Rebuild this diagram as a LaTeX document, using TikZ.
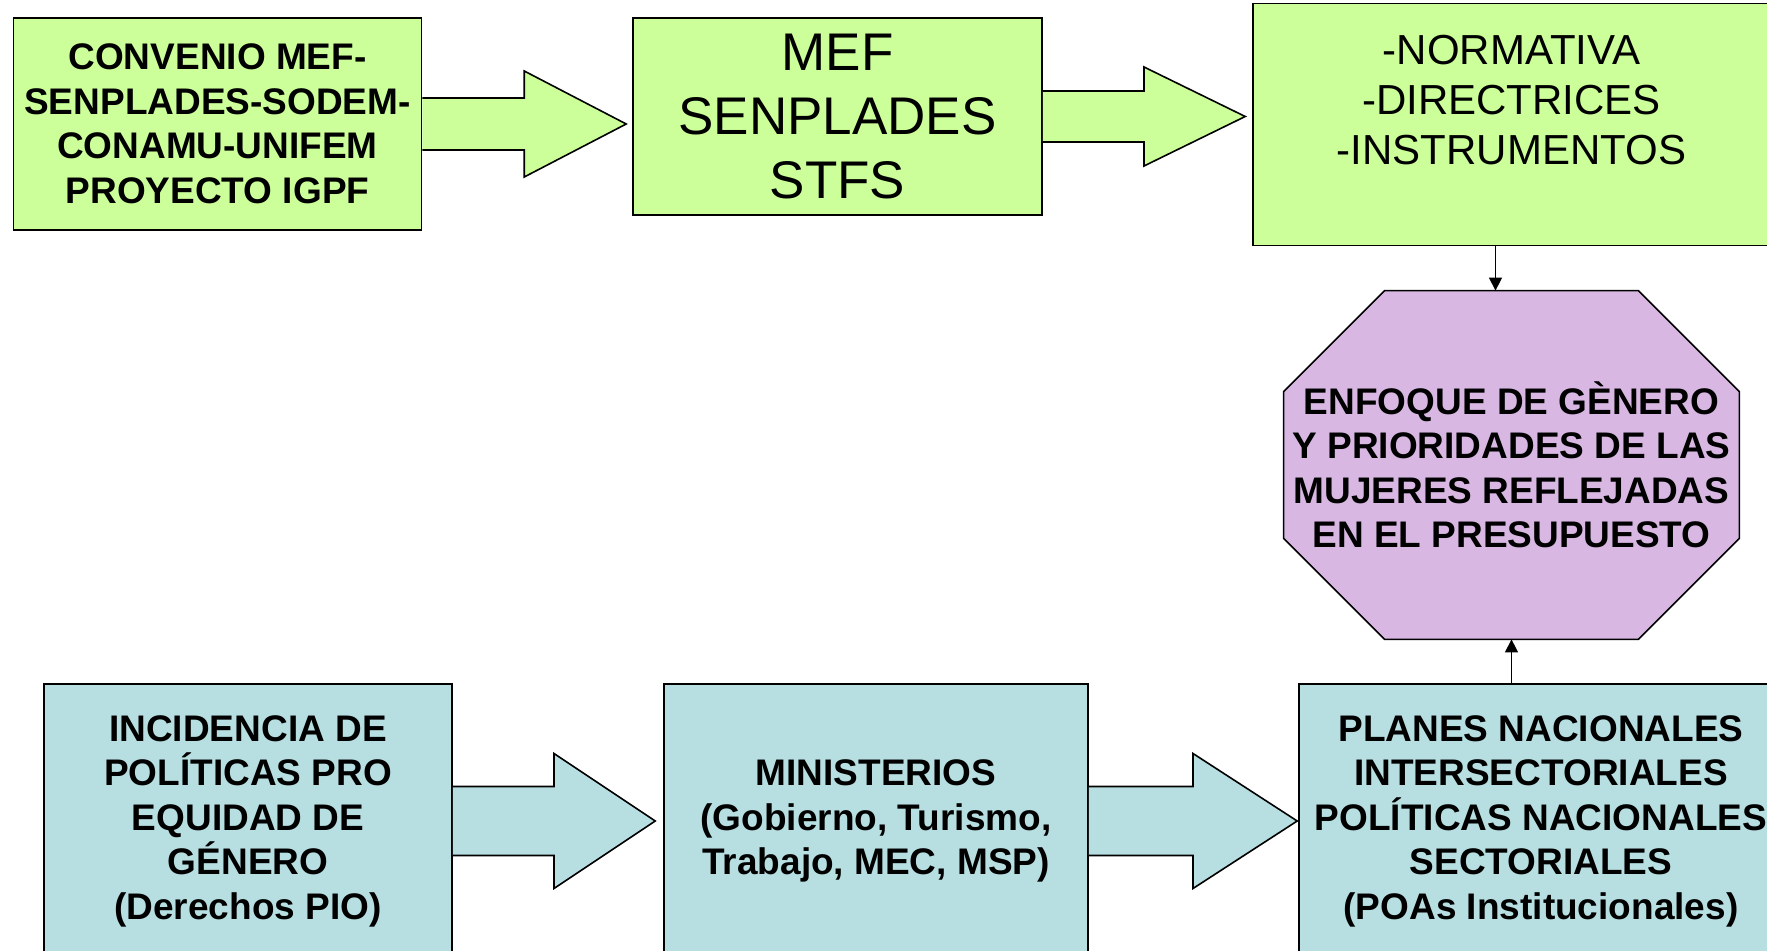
\documentclass[tikz,border=0pt]{standalone}
\usepackage{fontspec}
\setmainfont{Liberation Sans}
\usetikzlibrary{arrows.meta, calc, backgrounds}
\definecolor{boxgreen}{HTML}{CCFF99}
\definecolor{boxblue}{HTML}{B7DFE2}
\definecolor{boxpurple}{HTML}{D8B8E3}

% block arrow: from, to, gap, shaft half width, head half width, fill
\newcommand{\blockarrow}[6]{%
  \coordinate (tip) at ($(#2.west |- #1.east)+(-#3,0)$);
  \coordinate (mid) at ($(#1.east)!0.5!(tip)$);
  \filldraw[fill=#6, line width=0.8pt, line join=miter]
    ($(#1.east)+(0,-#4)$) -- ($(mid)+(0,-#4)$) -- ($(mid)+(0,-#5)$) -- (tip)
    -- ($(mid)+(0,#5)$) -- ($(mid)+(0,#4)$) -- ($(#1.east)+(0,#4)$);
}

\begin{document}
\begin{tikzpicture}[
    x=0.5pt, y=-0.5pt,
    box/.style={
        draw,
        line width=0.8pt,
        align=center,
        inner sep=0pt
    },
    boldtext/.style={
        font=\fontsize{18.5pt}{22.25pt}\selectfont\bfseries
    },
    link/.style={
        -{Triangle[length=6.5pt, width=6.5pt]},
        line width=0.7pt
    }
]
\useasboundingbox (0,0) rectangle (1767,951);

% Top row
\node[box, boldtext, fill=boxgreen, minimum width=204pt, minimum height=106pt] (conv) at (217.5,124) {
    CONVENIO MEF-\\
    SENPLADES-SODEM-\\
    CONAMU-UNIFEM\\
    PROYECTO IGPF
};

\node[box, fill=boxgreen, minimum width=204.5pt, minimum height=98.5pt,
      font=\fontsize{26.5pt}{32pt}\selectfont] (mef) at (837.5,116.5) {
    MEF\\
    SENPLADES\\
    STFS
};

\node[box, fill=boxgreen, minimum width=258.5pt, minimum height=121pt] (norm) at (1511.5,124.5) {};
\node[align=center, font=\fontsize{21pt}{25pt}\selectfont] (normtext) at ([yshift=12.25pt]norm.center) {
    -NORMATIVA\\
    -DIRECTRICES\\
    -INSTRUMENTOS
};

% Octagon
\node[align=center, boldtext, inner sep=0pt, minimum width=227.5pt, minimum height=174pt] (enfoque) at (1511.5,465) {
    ENFOQUE DE GÈNERO\\
    Y PRIORIDADES DE LAS\\
    MUJERES REFLEJADAS\\
    EN EL PRESUPUESTO
};
\begin{scope}[on background layer]
\draw[fill=boxpurple, line width=0.8pt]
    ([xshift=50.5pt]enfoque.north west) -- ([xshift=-50.5pt]enfoque.north east)
    -- ([yshift=-50.5pt]enfoque.north east) -- ([yshift=50.5pt]enfoque.south east)
    -- ([xshift=-50.5pt]enfoque.south east) -- ([xshift=50.5pt]enfoque.south west)
    -- ([yshift=50.5pt]enfoque.south west) -- ([yshift=-50.5pt]enfoque.north west) -- cycle;
\end{scope}

% Bottom row
\node[box, boldtext, fill=boxblue, minimum width=204pt, minimum height=137pt] (incid) at (248,821) {
    INCIDENCIA DE\\
    POLÍTICAS PRO\\
    EQUIDAD DE\\
    GÉNERO\\
    (Derechos PIO)
};

\node[box, boldtext, fill=boxblue, minimum width=212pt, minimum height=137pt] (minis) at (876,821) {
    MINISTERIOS\\
    (Gobierno, Turismo,\\
    Trabajo, MEC, MSP)
};

\node[box, boldtext, fill=boxblue, minimum width=242pt, minimum height=137pt] (planes) at (1541,821) {
    PLANES NACIONALES\\
    INTERSECTORIALES\\
    POLÍTICAS NACIONALES\\
    SECTORIALES\\
    (POAs Institucionales)
};

% Block arrows
\blockarrow{conv}{mef}{6}{26}{53}{boxgreen}
\blockarrow{mef}{norm}{7}{25.5}{49.5}{boxgreen}
\blockarrow{incid}{minis}{8}{34.5}{67.5}{boxblue}
\blockarrow{minis}{planes}{1}{34.5}{67.5}{boxblue}

% Thin arrows
\draw[link] ([xshift=-8pt]norm.south) -- ([xshift=-8pt]norm.south |- enfoque.north);
\draw[link] (planes.north -| enfoque.south) -- (enfoque.south);

\end{tikzpicture}
\end{document}
